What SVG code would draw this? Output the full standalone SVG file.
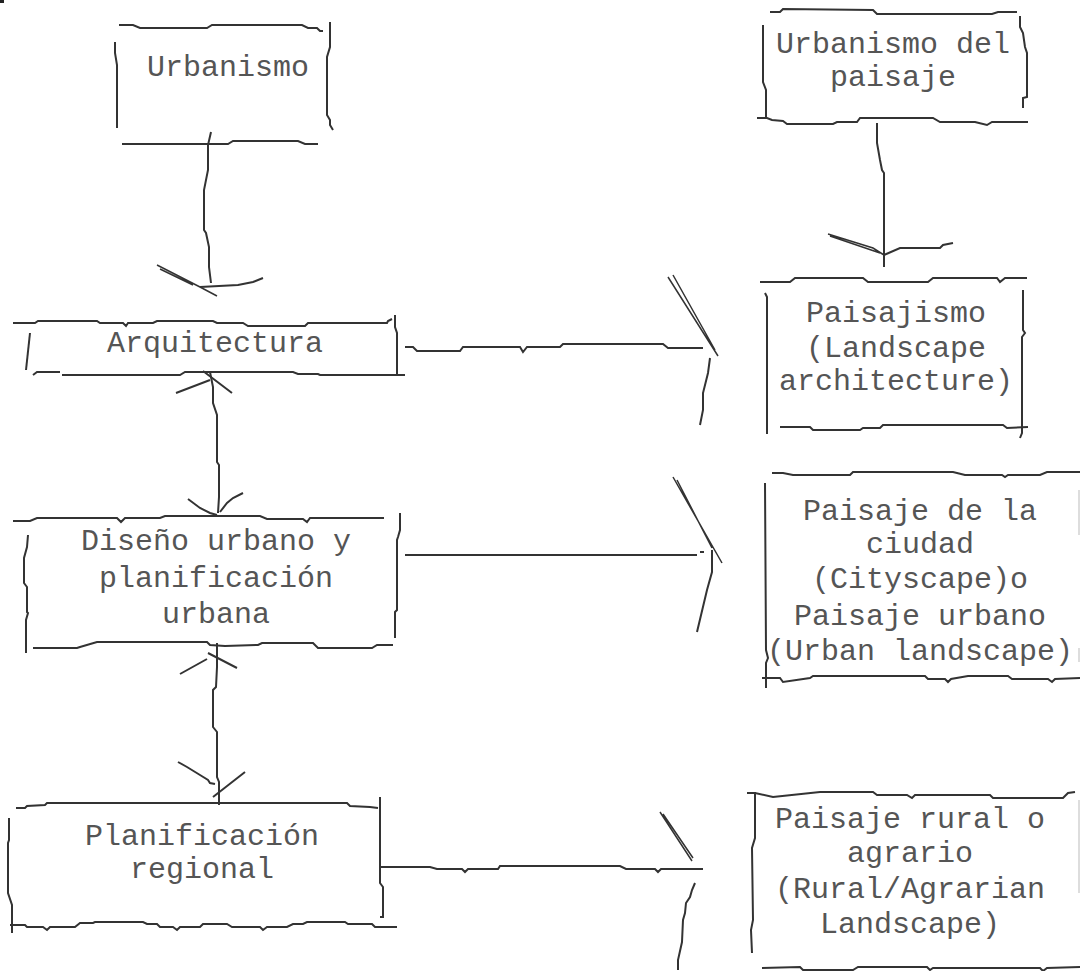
<svg xmlns="http://www.w3.org/2000/svg" width="1080" height="971" viewBox="0 0 1080 971">
<style>
.s{fill:none;stroke:#333;stroke-width:2;stroke-linejoin:miter;stroke-linecap:butt}
.d{fill:none;stroke:#333;stroke-width:1.5}
.f{fill:none;stroke:#bbb;stroke-width:1}
.t{font-family:"Liberation Mono","Courier New",monospace;font-size:30px;fill:#555;text-anchor:middle}
</style>
<rect width="1080" height="971" fill="#fff"/>
<rect x="0" y="0" width="4" height="3" fill="#222"/>

<g id="node-urbanismo">
<path class="s" d="M119,25 L133,25 L140,28 L207,28 L212,25 L302,25 L308,28 L317,28 L320,31 L323,31"/>
<path class="s" d="M115,42 L115,53 L117,65 L117,128"/>
<path class="s" d="M330,22 L330,47 L327,57 L327,115 L330,120 L330,125 L333,130"/>
<path class="s" d="M122,144 L228,144 L233,141 L298,141 L305,144 L318,144"/>
<text class="t" x="228" y="76">Urbanismo</text>
</g>

<g id="node-arquitectura">
<path class="s" d="M13,323 L35,323 L38,321 L97,321 L100,323 L123,323 L126,326 L128,323 L153,323 L157,321 L213,321 L217,323 L243,323 L248,326 L305,326 L308,323 L387,323 L388,321 L392,319"/>
<path class="s" d="M30,333 L26,370"/>
<path class="s" d="M395,315 L395,327 L397,333 L397,374"/>
<path class="s" d="M33,375 L37,372 L60,372 M62,375 L180,375 L185,372 L293,372 L298,374 L318,374 L320,375 L405,375"/>
<text class="t" x="215" y="352">Arquitectura</text>
</g>

<g id="node-diseno">
<path class="s" d="M13,521 L30,521 L37,518 L117,518 L121,522 L125,518 L160,518 L165,516 L260,516 L267,519 L303,519 L307,522 L310,518 L384,518"/>
<path class="s" d="M28,535 L27,547 L24,558 L24,583 L27,587 L27,612 L28,613 L26,620 L26,653"/>
<path class="s" d="M400,513 L400,530 L398,537 L397,540 L397,610 L395,612 L395,638"/>
<path class="s" d="M33,648 L77,648 L80,647 L97,642 L207,642 L210,645 L225,646 L258,645 L262,643 L313,643 L318,648 L372,648 L377,645 L393,645"/>
<text class="t" x="216" y="550">Diseño urbano y</text>
<text class="t" x="216" y="587">planificación</text>
<text class="t" x="216" y="623">urbana</text>
</g>

<g id="node-planificacion">
<path class="s" d="M16,808 L25,808 L27,806 L45,805 L47,803 L347,803 L350,806 L370,807 L378,808"/>
<path class="s" d="M9,818 L9,840 L8,843 L8,893 L12,905 L12,933"/>
<path class="s" d="M380,797 L380,883 L383,887 L383,917 L380,917"/>
<path class="s" d="M10,925 L25,925 L27,927 L43,927 L47,930 L50,927 L75,927 L80,923 L93,923 L95,922 L143,922 L147,924 L157,924 L160,927 L173,927 L177,930 L180,927 L200,927 L203,924 L227,924 L232,927 L260,927 L263,930 L267,927 L287,927 L293,924 L303,924 L307,922 L345,922 L348,924 L372,924 L375,927 L397,927"/>
<text class="t" x="202" y="845">Planificación</text>
<text class="t" x="202" y="878">regional</text>
</g>

<g id="node-urbanismo-paisaje">
<path class="s" d="M770,12 L780,12 L783,9 L873,10 L877,14 L992,14 L998,12 L1017,12"/>
<path class="s" d="M763,25 L763,82 L766,90 L766,118"/>
<path class="s" d="M1020,16 L1020,27 L1023,33 L1025,47 L1027,53 L1027,97 L1023,98 L1023,108"/>
<path class="s" d="M757,118 L767,118 L772,120 L783,121 L787,124 L833,124 L837,122 L857,122 L860,118 L933,118 L940,122 L975,122 L987,125 L992,122 L1028,122"/>
<text class="t" x="893" y="53">Urbanismo del</text>
<text class="t" x="893" y="86">paisaje</text>
</g>

<g id="node-paisajismo">
<path class="s" d="M760,282 L790,282 L795,278 L863,278 L868,282 L928,282 L933,278 L997,278 L1000,282 L1005,278 L1027,278"/>
<path class="s" d="M765,293 L767,297 L767,434"/>
<path class="s" d="M1023,290 L1023,330 L1025,333 L1022,337 L1022,433 L1020,438"/>
<path class="s" d="M780,427 L810,427 L813,430 L860,430 L863,428 L880,428 L883,425 L1003,425 L1007,428 L1028,427"/>
<text class="t" x="896" y="322">Paisajismo</text>
<text class="t" x="896" y="357">(Landscape</text>
<text class="t" x="896" y="390">architecture)</text>
</g>

<g id="node-paisaje-ciudad">
<path class="s" d="M772,473 L783,473 L793,475 L850,475 L853,472 L953,472 L965,475 L1002,475 L1005,477 L1008,475 L1040,475 L1047,472 L1080,472"/>
<path class="s" d="M765,483 L766,650 L768,658 L766,663 L766,688"/>
<path class="f" d="M1079,490 L1079,535 M1079,648 L1079,662"/>
<path class="s" d="M762,678 L780,678 L783,682 L810,678 L813,676 L925,676 L928,679 L945,679 L948,682 L951,679 L968,676 L1008,676 L1012,679 L1048,679 L1052,682 L1055,679 L1080,678"/>
<text class="t" x="920" y="520">Paisaje de la</text>
<text class="t" x="920" y="553">ciudad</text>
<text class="t" x="920" y="588">(Cityscape)o</text>
<text class="t" x="920" y="625">Paisaje urbano</text>
<text class="t" x="920" y="660">(Urban landscape)</text>
</g>

<g id="node-paisaje-rural">
<path class="s" d="M747,793 L755,793 L773,797 L820,792 L873,792 L877,795 L907,795 L912,798 L915,795 L990,795 L993,798 L1063,798 L1068,793 L1075,792"/>
<path class="s" d="M755,792 L755,838 L752,848 L753,920 L751,930 L752,953"/>
<path class="f" d="M1079,800 L1079,893"/>
<path class="s" d="M762,968 L800,967 L803,970 L853,970 L858,967 L927,967 L930,970 L933,968 L1040,968 L1043,971 L1047,968 L1080,967"/>
<text class="t" x="910" y="828">Paisaje rural o</text>
<text class="t" x="910" y="862">agrario</text>
<text class="t" x="910" y="898">(Rural/Agrarian</text>
<text class="t" x="910" y="933">Landscape)</text>
</g>

<g id="connectors">
<path class="s" d="M211,132 L208,145 L208,170 L204,190 L204,230 L206,233 L209,247 L209,267 L211,283"/>
<path class="d" d="M157,265 L200,287 L217,296 M160,269 L193,285"/>
<path class="s" d="M200,287 L238,285 L253,282 L263,278"/>
<path class="s" d="M210,372 L213,387 L213,403 L217,415 L217,462 L219,465 L219,497 L218,513"/>
<path class="s" d="M176,393 L210,380 M203,371 L232,393"/>
<path class="s" d="M188,499 L200,508 L210,513 L217,515 M243,493 L233,498 L227,503 L220,512"/>
<path class="s" d="M217,643 L217,667 L216,687 L213,690 L213,727 L217,732 L217,777 L219,782 L219,805"/>
<path class="s" d="M180,674 L207,659 M208,653 L237,668"/>
<path class="s" d="M178,762 L187,767 L200,775 L208,780 L210,783 L215,784 M245,772 L213,797"/>
<path class="s" d="M877,123 L877,143 L880,160 L882,170 L884,173 L884,267"/>
<path class="d" d="M828,234 L873,248 L884,255 M830,236 L880,253"/>
<path class="s" d="M884,255 L900,248 L940,248 L943,245 L953,243"/>
<path class="s" d="M405,347 L413,347 L417,351 L460,351 L463,347 L520,347 L523,352 L527,347 L560,347 L563,344 L663,344 L668,348 L703,348"/>
<path class="d" d="M668,277 L718,356 M673,275 L715,350"/>
<path class="s" d="M710,358 L708,373 L703,393 L703,410 L700,425"/>
<path class="s" d="M405,555 L697,555 M700,552 L704,552"/>
<path class="d" d="M673,477 L722,563 M677,480 L712,548"/>
<path class="s" d="M712,550 L712,572 L707,590 L697,632"/>
<path class="s" d="M381,867 L430,867 L437,869 L462,869 L465,872 L468,869 L498,869 L500,866 L620,866 L626,869 L655,869 L658,872 L661,869 L703,869"/>
<path class="d" d="M660,812 L692,861 M663,814 L693,858"/>
<path class="s" d="M695,883 L692,890 L690,897 L686,903 L685,913 L683,920 L682,942 L678,960 L678,970"/>
</g>
</svg>
